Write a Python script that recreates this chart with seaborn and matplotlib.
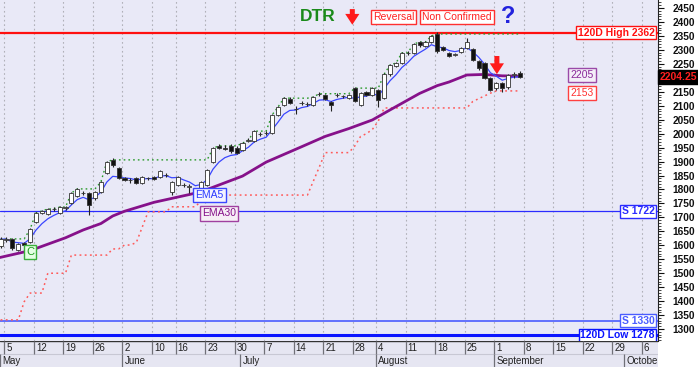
import numpy as np
import pandas as pd
import matplotlib
matplotlib.use("Agg")
import matplotlib.pyplot as plt
import seaborn as sns

# ---------------- data ----------------
day_idx = list(range(-1, 88))
opens = [1598, 1620, 1622, 1583, 1608, 1612, 1684, 1716, 1712, 1729, 1716, 1735, 1751, 1776, 1786, 1787,
         1769, 1791, 1859, 1906, 1877, 1841, 1834, 1841, 1823, 1840, 1845, 1845, 1851, 1791, 1816, 1815,
         1810, 1798, 1791, 1816, 1899, 1956, 1950, 1956, 1950, 1941, 1975, 1973, 1997, 2003, 2002, 2067,
         2102, 2124, 2089, 2109, 2105, 2102, 2141, 2138, 2113, 2137, 2134, 2128, 2163, 2102, 2149, 2138,
         2156, 2128, 2213, 2242, 2253, 2288, 2289, 2328, 2314, 2328, 2357, 2310, 2289, 2283, 2292, 2307,
         2303, 2260, 2253, 2199, 2163, 2181, 2167, 2212, 2217]
highs = [1630, 1628, 1626, 1608, 1612, 1662, 1720, 1727, 1734, 1736, 1741, 1742, 1792, 1806, 1795, 1792,
         1795, 1830, 1903, 1913, 1880, 1845, 1842, 1845, 1848, 1845, 1849, 1870, 1860, 1830, 1850, 1822,
         1818, 1802, 1830, 1873, 1952, 1962, 1960, 1962, 1955, 1970, 1985, 2013, 2006, 2010, 2072, 2099,
         2131, 2130, 2100, 2116, 2112, 2135, 2148, 2142, 2118, 2145, 2140, 2142, 2168, 2149, 2153, 2168,
         2160, 2216, 2250, 2258, 2293, 2296, 2325, 2333, 2332, 2355, 2364, 2314, 2293, 2290, 2310, 2342,
         2306, 2264, 2258, 2203, 2185, 2186, 2214, 2222, 2224]
lows = [1592, 1612, 1585, 1578, 1598, 1608, 1680, 1712, 1708, 1722, 1712, 1728, 1748, 1772, 1780, 1708,
        1762, 1786, 1855, 1880, 1838, 1830, 1822, 1818, 1820, 1834, 1834, 1842, 1845, 1780, 1812, 1808,
        1787, 1785, 1788, 1812, 1895, 1944, 1942, 1930, 1926, 1938, 1970, 1970, 1990, 1995, 1998, 2063,
        2098, 2106, 2072, 2102, 2098, 2098, 2136, 2120, 2081, 2130, 2126, 2124, 2112, 2098, 2134, 2134,
        2095, 2124, 2208, 2238, 2250, 2280, 2285, 2312, 2310, 2325, 2290, 2296, 2274, 2278, 2288, 2303,
        2260, 2228, 2195, 2152, 2158, 2150, 2160, 2200, 2198]
closes = [1622, 1623, 1590, 1605, 1602, 1658, 1716, 1723, 1730, 1731, 1737, 1737, 1787, 1802, 1788, 1744,
          1791, 1827, 1899, 1888, 1841, 1834, 1835, 1823, 1845, 1842, 1838, 1866, 1853, 1827, 1845, 1817,
          1811, 1787, 1827, 1870, 1948, 1948, 1946, 1938, 1931, 1966, 1977, 2009, 1999, 2001, 2067, 2095,
          2127, 2110, 2088, 2110, 2106, 2131, 2143, 2124, 2102, 2138, 2135, 2138, 2117, 2145, 2138, 2163,
          2120, 2213, 2246, 2253, 2289, 2290, 2321, 2317, 2328, 2350, 2296, 2300, 2278, 2286, 2307, 2328,
          2264, 2235, 2199, 2156, 2181, 2163, 2210, 2213, 2204.25]

# trailing stop (red dotted, lower)
stop_levels = [1333, 1333, 1333, 1333, 1398, 1429, 1429, 1429, 1500, 1500, 1500, 1500, 1565, 1565, 1565,
               1565, 1565, 1565, 1565, 1587, 1587, 1601, 1601, 1610, 1665, 1720, 1720, 1720, 1720, 1738,
               1738, 1738, 1738, 1738, 1760, 1780, 1780, 1780, 1780, 1780, 1780, 1780, 1780, 1780, 1780,
               1780, 1780, 1780, 1780, 1780, 1780, 1780, 1780, 1830, 1880, 1932, 1932, 1932, 1932, 1932,
               1955, 1990, 2000, 2015, 2045, 2092, 2092, 2092, 2092, 2092, 2092, 2092, 2092, 2092, 2092,
               2092, 2092, 2092, 2092, 2092, 2115, 2125, 2135, 2145, 2153, 2153, 2153, 2153, 2153]

# EMA30 (purple), read at points
ema30_k = [-1.2, 4, 10, 13, 16, 18, 20, 25, 31, 33, 37, 40, 44, 50, 54, 58, 62, 65, 70, 73, 75, 78, 81, 84, 87]
ema30_v = [1556, 1581, 1627, 1655, 1678, 1705, 1722, 1754, 1782, 1792, 1824, 1848, 1898, 1953, 1990, 2018,
           2049, 2085, 2144, 2172, 2185, 2210, 2212, 2207, 2206]

tick_days = [0, 5, 10, 15, 20, 25, 29, 34, 39, 44, 49, 54, 59, 63, 68, 73, 78, 83, 88, 93, 98, 103, 108]
tick_labels = ["5", "12", "19", "26", "2", "10", "16", "23", "30", "7", "14", "21", "28", "4", "11", "18",
               "25", "1", "8", "15", "22", "29", "6"]
month_days = [-1.1, 20, 40, 63, 83, 105]
month_labels = ["May", "June", "July", "August", "September", "October"]

level_values = [2362, 1722, 1330, 1278]
level_labels = ["120D High 2362", "S 1722", "S 1330", "120D Low 1278"]
level_colors = ["#ff1010", "#2b2bff", "#4a5cff", "#0a14ff"]
level_widths = [1.6, 0.9, 1.2, 2.2]

last_close = 2204.25
ema_tags = [2205, 2153]

# ---------------- styling ----------------
sns.set_theme(style="white")
plt.rcParams['font.family'] = ['Liberation Sans', 'DejaVu Sans']

W, H = 698, 367
fig = plt.figure(figsize=(W / 100, H / 100), dpi=100)
fig.patch.set_facecolor("white")
ax = fig.add_axes([0, 26 / H, 658 / W, 1 - 26 / H])
ax.set_facecolor("#E9E9F7")

x_lo, x_hi = -1.1, 110.4
y_lo, y_hi = 1257.3, 2478.6
ax.set_xlim(x_lo, x_hi)
ax.set_ylim(y_lo, y_hi)

df = pd.DataFrame({"k": day_idx, "open": opens, "high": highs, "low": lows, "close": closes,
                   "stop": stop_levels})
df["top"] = df[["open", "close"]].max(axis=1)
df["ema5"] = df["close"].ewm(span=5, adjust=False).mean()
df["green"] = df["top"].rolling(20, min_periods=1).max()

tick_pos = [t - 0.35 for t in tick_days]
for t in tick_pos:
    ax.axvline(t, color="#b0b0b8", lw=0.8, ls=(0, (1.5, 2.5)), zorder=1)

# horizontal levels
for v, c, w in zip(level_values, level_colors, level_widths):
    ax.axhline(v, color=c, lw=w, zorder=2)

# stop and green step lines
sns.lineplot(data=df, x="k", y="stop", ax=ax, color="#ff5a5a", lw=1.1, linestyle=(0, (1.2, 2.2)),
             zorder=3)
sns.lineplot(data=df, x="k", y="green", ax=ax, color="#2a9a2a", lw=1.0, linestyle=(0, (1.2, 2.2)),
             zorder=3)

# EMA lines
ema30_df = pd.DataFrame({"k": ema30_k, "v": ema30_v})
sns.lineplot(data=ema30_df, x="k", y="v", ax=ax, color="#86118a", lw=2.0, zorder=4)
sns.lineplot(data=df, x="k", y="ema5", ax=ax, color="#3a46ff", lw=0.9, zorder=4)

# candles
for _, r in df.iterrows():
    up = r["close"] >= r["open"]
    ax.vlines(r["k"], r["low"], r["high"], color="#222222", lw=0.8, zorder=5)
    body = max(abs(r["close"] - r["open"]), 1.8)
    bottom = min(r["open"], r["close"])
    if abs(r["close"] - r["open"]) < 1.8:
        bottom = (r["open"] + r["close"]) / 2 - 0.9
    ax.bar(r["k"], body, bottom=bottom, width=0.7, color="white" if up else "#111111",
           edgecolor="#333333", lw=0.6, zorder=6)

ax.set_xlabel("")
ax.set_ylabel("")
ax.set_xticks([])

# right axis
ax.yaxis.tick_right()
yt = np.arange(1300, 2451, 50)
ax.set_yticks(yt)
ax.set_yticklabels(["" if v == 2200 else str(v) for v in yt])
ax.set_yticks(np.arange(1260, 2471, 10), minor=True)
ax.tick_params(axis="y", which="major", direction="out", length=4, width=0.8, pad=6.5,
               labelsize=7.3, colors="#111111", right=True, left=False)
ax.tick_params(axis="y", which="minor", direction="out", length=2, width=0.6, right=True, left=False)
for lab in ax.get_yticklabels():
    lab.set_fontweight("bold")
for s in ["top", "left", "bottom"]:
    ax.spines[s].set_visible(False)
ax.spines["right"].set_color("#222222")
ax.spines["right"].set_linewidth(0.8)

# level label boxes
for v, lab, c in zip(level_values, level_labels, level_colors):
    ax.text(0.995, v, lab, transform=ax.get_yaxis_transform(), ha="right", va="center",
            fontsize=7.5, fontweight="bold", color=c, zorder=8,
            bbox=dict(boxstyle="square,pad=0.15", fc="white", ec=c, lw=1))

# last price tag on axis
ax.annotate(f"{last_close:.2f}", xy=(1.0, last_close), xycoords=ax.get_yaxis_transform(),
            xytext=(1.5, 0), textcoords="offset points", ha="left", va="center",
            fontsize=7.5, fontweight="bold", color="#ff2020", annotation_clip=False,
            bbox=dict(boxstyle="square,pad=0.2", fc="black", ec="black"))

# EMA tags
ax.text(97.5, 2210, str(ema_tags[0]), ha="center", va="center", fontsize=7.5, color="#8a2a9a",
        bbox=dict(boxstyle="square,pad=0.2", fc="#f4eef8", ec="#9a4aa8", lw=1), zorder=8)
ax.text(97.5, 2147, str(ema_tags[1]), ha="center", va="center", fontsize=7.5, color="#ff3030",
        bbox=dict(boxstyle="square,pad=0.2", fc="white", ec="#ff4040", lw=1), zorder=8)

ax.text(34.4, 1780, "EMA5", ha="center", va="center", fontsize=7.5, color="#2b3bff",
        bbox=dict(boxstyle="square,pad=0.2", fc="#f4f4ff", ec="#3a46ff", lw=1), zorder=8)
ax.text(36.0, 1714, "EMA30", ha="center", va="center", fontsize=7.5, color="#86118a",
        bbox=dict(boxstyle="square,pad=0.2", fc="#f6eef6", ec="#a040a0", lw=1), zorder=8)
ax.text(4.0, 1576, "C", ha="center", va="center", fontsize=8, color="#1a9a1a",
        bbox=dict(boxstyle="square,pad=0.2", fc="#e4ffe4", ec="#3ab03a", lw=1), zorder=8)

# header annotations
arrow_props = dict(arrowstyle="simple,head_width=0.85,head_length=0.65,tail_width=0.3",
                   color="#ff1a1a", lw=0, shrinkA=0, shrinkB=0, mutation_scale=12)
ax.text(52.8, 2420, "DTR", ha="center", va="center", fontsize=12.5, fontweight="bold",
        color="#1a8a1a", zorder=8)
ax.annotate("", xy=(58.6, 2390), xytext=(58.6, 2446), arrowprops=arrow_props, zorder=8)
ax.text(65.6, 2418, "Reversal", ha="center", va="center", fontsize=7.5, color="#ff2020",
        bbox=dict(boxstyle="square,pad=0.2", fc="white", ec="#ff3030", lw=1), zorder=8)
ax.text(76.3, 2418, "Non Confirmed", ha="center", va="center", fontsize=7.5, color="#ff2020",
        bbox=dict(boxstyle="square,pad=0.2", fc="white", ec="#ff3030", lw=1), zorder=8)
ax.text(85.0, 2420, "?", ha="center", va="center", fontsize=17, fontweight="bold",
        color="#2222dd", zorder=8)
ax.annotate("", xy=(83.1, 2213), xytext=(83.1, 2278), arrowprops=arrow_props, zorder=8)

# ---------------- date axis ----------------
axd = fig.add_axes([0, 0, 658 / W, 26 / H])
axd.set_xlim(x_lo, x_hi)
axd.set_ylim(0, 26)
axd.axis("off")
axd.add_patch(plt.Rectangle((x_lo, 0), x_hi - x_lo, 26, fc="#E6E6F2", ec="none", zorder=0))
axd.axhline(25.6, color="#333333", lw=1.0)
axd.axhline(13.3, color="#c8c8d4", lw=0.8)
for t, lab in zip(tick_pos, tick_labels):
    axd.vlines(t, 13.3, 26, color="#707078", lw=0.9)
    axd.text(t + 0.35, 19.3, lab, ha="left", va="center", fontsize=7, color="#222222")
for m, lab in zip(month_days, month_labels):
    mp = m - 0.35 if m > 0 else m
    axd.vlines(mp, 0, 13.3, color="#707078", lw=0.9)
    axd.text(mp + 0.35, 6.3, lab, ha="left", va="center", fontsize=7, color="#222222", clip_on=True)

fig.savefig("out.png", dpi=100, facecolor="white")
